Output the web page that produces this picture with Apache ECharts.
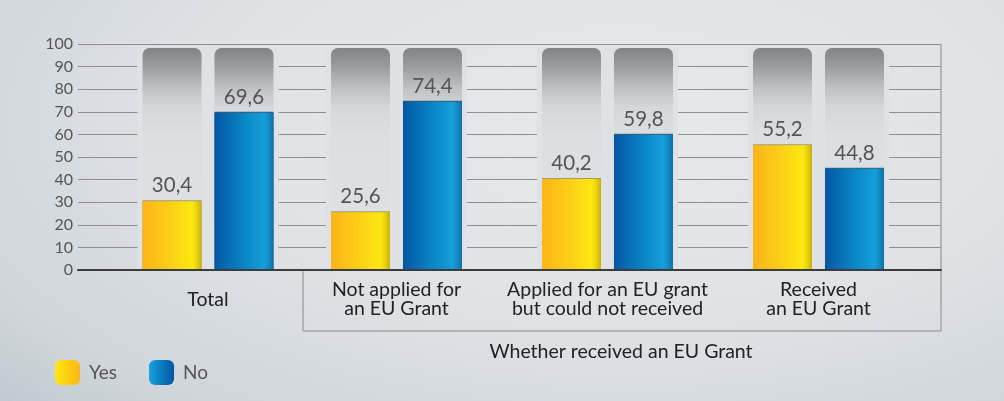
<!DOCTYPE html>
<html>
<head>
<meta charset="utf-8">
<script src="https://cdn.jsdelivr.net/npm/echarts@6/dist/echarts.min.js"></script>
<style>
  html, body { margin: 0; padding: 0; }
  body {
    width: 1004px; height: 401px; overflow: hidden;
    background: radial-gradient(ellipse 90% 110% at 62% 30%, #e6e8ea 0%, #e0e3e6 45%, #cfd5d9 80%, #bcc5cb 100%);
  }
  #chart { width: 1004px; height: 401px; }
</style>
</head>
<body>
<div id="chart"></div>
<script>
// Survey shares (%) by whether a firm received an EU grant
const categories = ['Total', 'Not applied for\nan EU Grant', 'Applied for an EU grant\nbut could not received', 'Received\nan EU Grant'];
const yesValues = [30.4, 25.6, 40.2, 55.2];
const noValues = [69.6, 74.4, 59.8, 44.8];
const groupTitle = 'Whether received an EU Grant';
const seriesNames = ['Yes', 'No'];
const yMin = 0, yMax = 100, yStep = 10;

// value at which the rounded grey track ends (slightly under the 100 line)
const TRACK_TOP = 98.2;

const FONT = 'Lato, "Open Sans", sans-serif';
const MASK = '#dfe2e5';

const yesFill = new echarts.graphic.LinearGradient(0, 0, 1, 0, [
  { offset: 0, color: '#fdb41a' },
  { offset: 0.5, color: '#fcd117' },
  { offset: 0.84, color: '#fde810' },
  { offset: 0.93, color: '#e6cf0c' },
  { offset: 1, color: '#c7ae0a' }
]);
const noFill = new echarts.graphic.LinearGradient(0, 0, 1, 0, [
  { offset: 0, color: '#0356a2' },
  { offset: 0.5, color: '#0a86c6' },
  { offset: 0.84, color: '#159fd9' },
  { offset: 0.93, color: '#1288c0' },
  { offset: 1, color: '#0e6ea4' }
]);
const trackFill = new echarts.graphic.LinearGradient(0, 0, 0, 1, [
  { offset: 0, color: '#818387' },
  { offset: 0.08, color: '#999b9f' },
  { offset: 0.18, color: '#bfc2c5' },
  { offset: 0.27, color: '#d5d8db' },
  { offset: 0.4, color: '#dcdfe2' },
  { offset: 1, color: '#dfe2e5' }
]);

const fmt = v => String(v.toFixed(1)).replace('.', ',');

const barGrids = [
  { left: 103, width: 210, cats: categories.slice(0, 1), yes: yesValues.slice(0, 1), no: noValues.slice(0, 1), margin: 20 },
  { left: 291, width: 633, cats: categories.slice(1), yes: yesValues.slice(1), no: noValues.slice(1), margin: 10 }
];

const grid = [{ left: 78, right: 63, top: 44, bottom: 131 }];
const xAxis = [{
  gridIndex: 0, type: 'category', data: [''], z: 10,
  axisLine: { show: true, lineStyle: { color: '#3c3c3c', width: 2 } },
  axisTick: { show: false }, axisLabel: { show: false }, splitLine: { show: false }
}];
const yAxis = [{
  gridIndex: 0, type: 'value', min: yMin, max: yMax, interval: yStep,
  axisLine: { show: false }, axisTick: { show: false },
  axisLabel: { color: '#555', fontSize: 16, fontFamily: FONT, margin: 5 },
  splitLine: { lineStyle: { color: '#8e8e8e', width: 1 } }
}];
const series = [];

barGrids.forEach(g => {
  const gi = grid.length;
  grid.push({ left: g.left, width: g.width, top: 48, bottom: 131 });
  const xa = xAxis.length;
  xAxis.push({
    gridIndex: gi, type: 'category', data: g.cats,
    axisLine: { show: false }, axisTick: { show: false },
    axisLabel: { color: '#222', fontSize: 19.5, fontFamily: FONT, lineHeight: 19, margin: g.margin, interval: 0 }
  });
  xAxis.push({ gridIndex: gi, type: 'category', data: g.cats, show: false });
  const ya = yAxis.length;
  yAxis.push({ gridIndex: gi, type: 'value', min: 0, max: TRACK_TOP, show: false });

  // clears the split lines around each bar pair
  series.push({
    type: 'bar', xAxisIndex: xa + 1, yAxisIndex: ya, barWidth: 141, silent: true,
    data: g.cats.map(() => TRACK_TOP), itemStyle: { color: MASK }, z: 1
  });

  const common = {
    type: 'bar', xAxisIndex: xa, yAxisIndex: ya, barWidth: 59, barGap: '22%', z: 3,
    showBackground: true,
    backgroundStyle: { color: trackFill, borderRadius: [7, 7, 0, 0] },
    label: {
      show: true, position: 'top', distance: 5, color: '#555', fontSize: 20.5, fontFamily: FONT,
      formatter: p => fmt(p.value)
    }
  };
  series.push(Object.assign({}, common, {
    name: seriesNames[0], data: g.yes,
    itemStyle: { color: yesFill, shadowColor: 'rgba(120,100,0,0.55)', shadowBlur: 0, shadowOffsetY: -1 }
  }));
  series.push(Object.assign({}, common, {
    name: seriesNames[1], data: g.no,
    itemStyle: { color: noFill, shadowColor: 'rgba(5,50,90,0.75)', shadowBlur: 0, shadowOffsetY: -1 }
  }));
});

const boxStroke = { stroke: '#a3a6a9', lineWidth: 1.5 };

const option = {
  animation: false,
  backgroundColor: 'transparent',
  textStyle: { fontFamily: FONT },
  grid, xAxis, yAxis, series,
  legend: {
    left: 50, top: 355, itemWidth: 25, itemHeight: 25, itemGap: 32, icon: 'roundRect',
    textStyle: { color: '#555', fontSize: 19, fontFamily: FONT, padding: [0, 0, 0, 4] },
    selectedMode: false,
    data: [
      { name: seriesNames[0], itemStyle: { color: new echarts.graphic.LinearGradient(0, 0, 1, 0, [
        { offset: 0, color: '#fde910' }, { offset: 1, color: '#fdb515' }]) } },
      { name: seriesNames[1], itemStyle: { color: new echarts.graphic.LinearGradient(0, 0, 1, 0, [
        { offset: 0, color: '#16a2de' }, { offset: 1, color: '#0254a0' }]) } }
    ]
  },
  graphic: [
    { type: 'line', shape: { x1: 941, y1: 44, x2: 941, y2: 331 }, style: boxStroke, z: 5 },
    { type: 'line', shape: { x1: 303, y1: 270, x2: 303, y2: 331 }, style: boxStroke, z: 5 },
    { type: 'line', shape: { x1: 303, y1: 331, x2: 941, y2: 331 }, style: boxStroke, z: 5 },
    { type: 'text', x: 621, y: 352, z: 5,
      style: { text: groupTitle, fill: '#222', font: '19.5px ' + FONT, textAlign: 'center', textVerticalAlign: 'middle' } }
  ]
};

const chart = echarts.init(document.getElementById('chart'), null, { renderer: 'canvas' });
chart.setOption(option);
</script>
</body>
</html>
